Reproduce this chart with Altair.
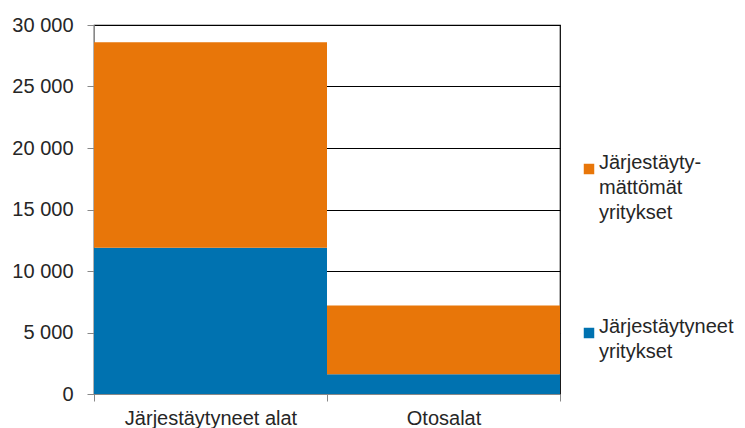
import altair as alt
import pandas as pd

categories = ["Järjestäytyneet alat", "Otosalat"]
series = ["Järjestäyty-|mättömät|yritykset", "Järjestäytyneet|yritykset"]
organized = [11900, 1600]
unorganized = [16700, 5600]
colors = ["#E87609", "#0072B0"]

rows = []
for i, c in enumerate(categories):
    rows.append({"cat": c, "series": series[1], "value": organized[i], "ord": 0})
    rows.append({"cat": c, "series": series[0], "value": unorganized[i], "ord": 1})
df = pd.DataFrame(rows)

font = "Liberation Sans"
txt = "#262626"

chart = alt.Chart(df).mark_bar(strokeWidth=0).encode(
    x=alt.X("cat:N", sort=categories, title=None,
            scale=alt.Scale(paddingInner=0, paddingOuter=0),
            axis=alt.Axis(labelAngle=0, labelFontSize=20, labelFont=font, labelColor=txt,
                          domainColor="#888888", tickColor="#888888", tickSize=7,
                          tickBand="extent", labelPadding=7)),
    y=alt.Y("sum(value):Q", title=None, stack="zero",
            scale=alt.Scale(domain=[0, 30000], nice=False),
            axis=alt.Axis(values=[0, 5000, 10000, 15000, 20000, 25000, 30000],
                          labelExpr="replace(format(datum.value, ','), ',', ' ')",
                          labelFontSize=20, labelFont=font, labelColor=txt,
                          domainColor="#888888", tickColor="#888888", tickSize=7,
                          labelPadding=14, gridColor="#000000", gridWidth=1.2, gridOpacity=1)),
    color=alt.Color("series:N", scale=alt.Scale(domain=series, range=colors),
                    legend=alt.Legend(title=None, orient="none", legendX=485, legendY=134,
                                      labelExpr="split(datum.label, '|')",
                                      labelFontSize=20, labelFont=font, labelColor=txt,
                                      labelLimit=300, labelBaseline="alphabetic",
                                      symbolType="square", symbolSize=110, symbolStrokeWidth=0,
                                      labelOffset=0, rowPadding=94)),
    order=alt.Order("ord:Q", sort="ascending"),
).properties(
    width=466, height=369,
    autosize=alt.AutoSizeParams(type="none"),
    padding={"left": 86, "top": 17, "right": 177, "bottom": 40},
).configure(
    style={"guide-label": {"lineHeight": 25}}
).configure_view(stroke="#000000", strokeWidth=1.2).configure_legend(labelFont=font)

chart.save("out.html", embed_options={"renderer": "svg", "actions": False})
